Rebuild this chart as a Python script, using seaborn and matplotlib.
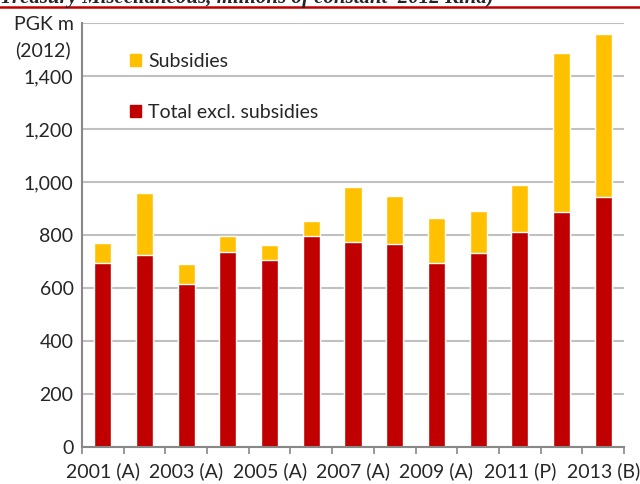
import pandas as pd
import matplotlib.pyplot as plt
import seaborn as sns
from matplotlib.patches import Patch

# values (PGK m, constant 2012)
years = ['2001 (A)', '2002 (A)', '2003 (A)', '2004 (A)', '2005 (A)', '2006 (A)', '2007 (A)',
         '2008 (A)', '2009 (A)', '2010 (A)', '2011 (P)', '2012 (B)', '2013 (B)']
excl_subsidies = [694, 724, 616, 737, 704, 795, 774, 766, 694, 732, 812, 886, 945]
subsidies = [75, 233, 74, 58, 58, 58, 207, 180, 170, 160, 177, 601, 615]
yticks = [0, 200, 400, 600, 800, 1000, 1200, 1400, 1600]

red = '#C00000'
yellow = '#FFC000'

df = pd.DataFrame({'year': years, 'excl': excl_subsidies, 'subs': subsidies})
df['total'] = df['excl'] + df['subs']

sns.set_style('white')
plt.rcParams['font.family'] = ['Lato', 'DejaVu Sans']
fs = 14

fig = plt.figure(figsize=(6.4, 4.84), dpi=100)
ax = fig.add_axes([0.128, 0.0764, 0.847, 0.8761])

# stacked bars: total in yellow, red part drawn over it
sns.barplot(data=df, x='year', y='total', color=yellow, saturation=1, width=0.41, ax=ax)
sns.barplot(data=df, x='year', y='excl', color=red, saturation=1, width=0.41, ax=ax)

ax.set_ylim(0, 1600)
ax.set_xlim(-0.5, len(years) - 0.5)
ax.set_yticks(yticks)
ax.set_yticklabels([f'{v:,}' for v in yticks[:-1]] + ['PGK m'], fontsize=fs)
ax.yaxis.grid(True, color='#c0c0c0', linewidth=1.5)
ax.set_axisbelow(True)
ax.tick_params(axis='y', length=0, pad=6)

ax.set_xticks(range(len(years)))
ax.set_xticklabels([y if i % 2 == 0 else '' for i, y in enumerate(years)], fontsize=fs)
ax.set_xticks([i - 0.5 for i in range(len(years) + 1)], minor=True)
ax.tick_params(axis='x', which='major', length=0, pad=11)
ax.tick_params(axis='x', which='minor', length=5, width=1.2, color='#888888', direction='out', bottom=True)
ax.set_xlabel('')
ax.set_ylabel('')

for s in ['top', 'right']:
    ax.spines[s].set_visible(False)
for s in ['left', 'bottom']:
    ax.spines[s].set_color('#888888')
    ax.spines[s].set_linewidth(1.5)

ax.text(-0.072, 0.936, '(2012)', transform=ax.transAxes, ha='center', va='center', fontsize=fs)

handles = [Patch(color=yellow, label='Subsidies'), Patch(color=red, label='Total excl. subsidies')]
ax.legend(handles=handles, loc='upper left', bbox_to_anchor=(0.088, 0.93), frameon=False,
          borderpad=0, borderaxespad=0, fontsize=fs, handlelength=0.6, handleheight=0.6,
          handletextpad=0.35, labelspacing=1.75)

# cropped title and rule from the source page
fig.text(0.0, 0.993, 'Treasury Miscellaneous, millions of constant  2012 Kina)', ha='left', va='baseline',
         fontsize=15, family='Liberation Serif', style='italic', weight='bold')
fig.add_artist(plt.Line2D([0, 1], [0.985, 0.985], color=red, linewidth=1.8))

fig.savefig('out.png', dpi=100)
